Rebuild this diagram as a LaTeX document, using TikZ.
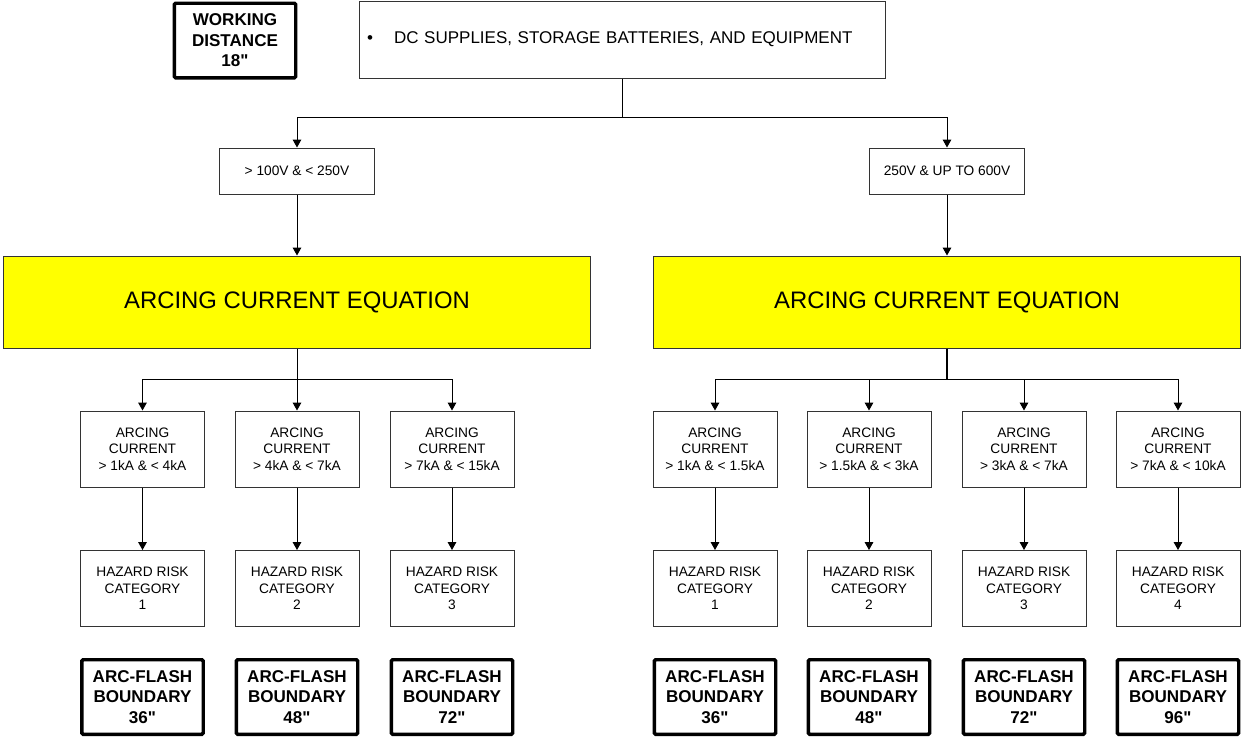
\documentclass[tikz,border=0pt]{standalone}
\usepackage{fontspec}
\setmainfont{Liberation Sans}[Ligatures=TeXOff]
\usetikzlibrary{arrows.meta}
\definecolor{eqyellow}{RGB}{255,255,0}
\begin{document}
\begin{tikzpicture}[x=0.75pt,y=-0.75pt,
  every node/.style={font=\fontsize{10.3}{12.4}\selectfont, align=center, inner sep=0pt},
  plain/.style={draw=black!80, line width=0.75pt, fill=white},
  smallbox/.style={plain, minimum width=93pt, minimum height=57pt},
  voltbox/.style={plain, minimum width=116.25pt, minimum height=34.5pt},
  eqbox/.style={draw=black!80, line width=0.75pt, fill=eqyellow,
    minimum width=440.5pt, minimum height=69pt, font=\fontsize{17.9}{20}\selectfont},
  boldbox/.style={draw=black, line width=2.6pt, fill=white, rounded corners=1pt,
    minimum width=91.1pt, minimum height=55.9pt, font=\fontsize{12.8}{15.3}\selectfont\bfseries},
  link/.style={draw=black, line width=0.75pt},
  arr/.style={link, -{Triangle[width=6.5pt,length=6pt]}}
]
\useasboundingbox (0,0) rectangle (1242,740);

% header
\node[boldbox] (wd) at (235,40.5) {WORKING\\DISTANCE\\18"};
\node[plain, minimum width=394.5pt, minimum height=57.75pt, text width=382.5pt,
  align=left, font=\fontsize{12.75}{15}\selectfont] (top) at (622,39.5)
  {\makebox[20.25pt][l]{\textbullet}DC SUPPLIES, STORAGE BATTERIES, AND EQUIPMENT};

% voltage ranges
\node[voltbox] (v1) at (297,171) {> 100V \& < 250V};
\node[voltbox] (v2) at (947,171) {250V \& UP TO 600V};

% equations
\node[eqbox] (e1) at (297,302) {ARCING CURRENT EQUATION};
\node[eqbox] (e2) at (947,302) {ARCING CURRENT EQUATION};

% arcing current ranges
\node[smallbox] (a1) at (142.5,449) {ARCING\\CURRENT\\> 1kA \& < 4kA};
\node[smallbox] (a2) at (297,449) {ARCING\\CURRENT\\> 4kA \& < 7kA};
\node[smallbox] (a3) at (452,449) {ARCING\\CURRENT\\> 7kA \& < 15kA};
\node[smallbox] (b1) at (715,449) {ARCING\\CURRENT\\> 1kA \& < 1.5kA};
\node[smallbox] (b2) at (869,449) {ARCING\\CURRENT\\> 1.5kA \& < 3kA};
\node[smallbox] (b3) at (1024,449) {ARCING\\CURRENT\\> 3kA \& < 7kA};
\node[smallbox] (b4) at (1178,449) {ARCING\\CURRENT\\> 7kA \& < 10kA};

% hazard risk categories
\node[smallbox] (h1) at (142.5,588.5) {HAZARD RISK\\CATEGORY\\1};
\node[smallbox] (h2) at (297,588.5) {HAZARD RISK\\CATEGORY\\2};
\node[smallbox] (h3) at (452,588.5) {HAZARD RISK\\CATEGORY\\3};
\node[smallbox] (k1) at (715,588.5) {HAZARD RISK\\CATEGORY\\1};
\node[smallbox] (k2) at (869,588.5) {HAZARD RISK\\CATEGORY\\2};
\node[smallbox] (k3) at (1024,588.5) {HAZARD RISK\\CATEGORY\\3};
\node[smallbox] (k4) at (1178,588.5) {HAZARD RISK\\CATEGORY\\4};

% arc-flash boundaries
\node[boldbox] (f1) at (142.5,697) {ARC-FLASH\\BOUNDARY\\36"};
\node[boldbox] (f2) at (297,697) {ARC-FLASH\\BOUNDARY\\48"};
\node[boldbox] (f3) at (452,697) {ARC-FLASH\\BOUNDARY\\72"};
\node[boldbox] (g1) at (715,697) {ARC-FLASH\\BOUNDARY\\36"};
\node[boldbox] (g2) at (869,697) {ARC-FLASH\\BOUNDARY\\48"};
\node[boldbox] (g3) at (1024,697) {ARC-FLASH\\BOUNDARY\\72"};
\node[boldbox] (g4) at (1178,697) {ARC-FLASH\\BOUNDARY\\96"};

% connectors
\coordinate (j0) at (622,117);
\draw[link] (top.south) -- (j0);
\draw[arr] (j0) -| (v1.north);
\draw[arr] (j0) -| (v2.north);
\draw[arr] (v1.south) -- (e1.north);
\draw[arr] (v2.south) -- (e2.north);

\coordinate (jl) at (297,379);
\draw[link] (e1.south) -- (jl);
\foreach \n in {a1,a2,a3} \draw[arr] (jl) -| (\n.north);
\coordinate (jr) at (947,379);
\draw[link, line width=1.2pt] (e2.south) -- (jr);
\foreach \n in {b1,b2,b3,b4} \draw[arr] (jr) -| (\n.north);

\foreach \a/\h in {a1/h1,a2/h2,a3/h3,b1/k1,b2/k2,b3/k3,b4/k4}
  \draw[arr] (\a.south) -- (\h.north);
\end{tikzpicture}
\end{document}
